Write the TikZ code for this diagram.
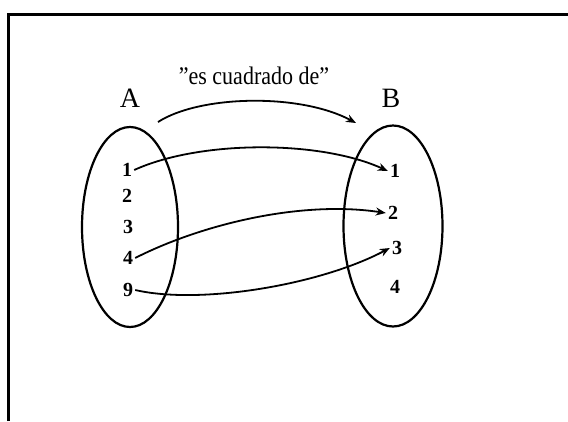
\documentclass[tikz,border=0pt]{standalone}
\usepackage{fontspec}
\setmainfont{Liberation Serif}
\usetikzlibrary{shapes.geometric,arrows.meta}
\tikzset{
  setshape/.style={draw, ellipse, line width=2.2pt, inner sep=0pt},
  elem/.style={font=\fontsize{20}{20}\selectfont\bfseries, inner sep=2pt},
  setname/.style={font=\fontsize{28}{28}\selectfont, inner sep=0pt},
  maparrow/.style={line width=1.8pt, -{Stealth[length=10pt,width=8pt]}},
  frame/.style={line width=3pt}
}
\begin{document}
\begin{tikzpicture}[x=1pt,y=-1pt]
\useasboundingbox (0,0) rectangle (568,421);
\fill[white] (0,0) rectangle (568,421);
\coordinate (f1) at (8,421);
\coordinate (f2) at (8,14);
\coordinate (f3) at (568,14);
\draw[frame] (f1) -- (f2) -- (f3);

\node[setshape, minimum width=96pt, minimum height=200pt] (EA) at (130,227) {};
\node[setshape, minimum width=99pt, minimum height=201pt] (EB) at (393,226) {};

\node[setname] (A) at (130,98) {A};
\node[setname] (B) at (391,98) {B};
\node[font=\fontsize{22}{22}\selectfont, inner sep=0pt, yscale=1.15, transform shape] (rel) at (254,76) {"es cuadrado de"};

\node[elem] (a1) at (127,170) {1};
\node[elem] (a2) at (127,196) {2};
\node[elem] (a3) at (128,227) {3};
\node[elem] (a4) at (128,258) {4};
\node[elem] (a9) at (128,290) {9};

\node[elem] (b1) at (395,171) {1};
\node[elem] (b2) at (393,213) {2};
\node[elem] (b3) at (397,248) {3};
\node[elem] (b4) at (395,287) {4};

\coordinate (ts) at (158,122);
\coordinate (te) at (356,123);
\draw[maparrow] (ts) .. controls (200,95) and (300,93) .. (te);

\draw[maparrow] (a1.east) .. controls (200,140) and (320,140) .. (b1.west);
\draw[maparrow] (a4.east) .. controls (200,225) and (300,200) .. (b2.west);
\draw[maparrow] (a9.east) .. controls (200,305) and (320,285) .. (b3.west);
\end{tikzpicture}
\end{document}
